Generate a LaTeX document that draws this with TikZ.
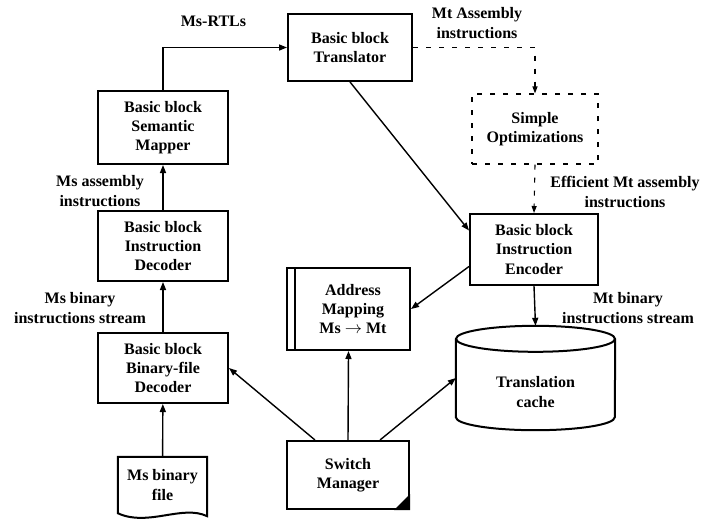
\documentclass[tikz,border=0pt]{standalone}
\usepackage{fontspec}
\setmainfont{Liberation Serif}
\usetikzlibrary{positioning,calc,arrows.meta}

\begin{document}
\begin{tikzpicture}[x=1pt,y=-1pt,
    every node/.style={font=\bfseries\fontsize{16}{19.3}\selectfont, align=center},
    blk/.style={draw, line width=2pt, inner sep=0pt},
    wire/.style={line width=1.4pt, -{Triangle[length=8pt,width=6pt]}},
    dwire/.style={line width=1.1pt, dash pattern=on 5pt off 8pt}]
    \useasboundingbox (0,0) rectangle (719,523);
    % main blocks
    \node[blk, minimum width=124pt, minimum height=67pt] (trans) at (350,47.5) {Basic block\\Translator};
    \node[blk, minimum width=130pt, minimum height=73pt] (mapper) at (163,127.5) {Basic block\\Semantic\\Mapper};
    \node[blk, minimum width=130pt, minimum height=70pt] (idec) at (163,246) {Basic block\\Instruction\\Decoder};
    \node[blk, minimum width=130pt, minimum height=70pt] (bdec) at (163,368) {Basic block\\Binary-file\\Decoder};
    \node[blk, minimum width=128pt, minimum height=71pt] (enc) at (534,249.5) {Basic block\\Instruction\\Encoder};
    \node[blk, minimum width=123pt, minimum height=82pt] (addr) at (348.5,309) {\hspace*{9pt}Address\\\hspace*{9pt}Mapping\\\hspace*{9pt}Ms $\rightarrow$ Mt};
    \draw[line width=2pt] ($(addr.north west)+(9,0)$) -- ($(addr.south west)+(9,0)$);
    \node[blk, minimum width=122pt, minimum height=68pt] (sw) at (348,475) {Switch\\Manager};
    \fill ($(sw.south east)+(-16,0)$) -- (sw.south east) -- ($(sw.south east)+(0,-16)$) -- cycle;
    \node[draw, line width=1.1pt, dash pattern=on 5pt off 8pt, minimum width=126pt, minimum height=70pt] (opt) at (535,129) {Simple\\Optimizations};
    % document shape
    \node[minimum width=89pt, minimum height=56pt, inner sep=0pt] (file) at (162.5,485) {Ms binary\\file};
    \draw[line width=2pt] (file.north west) -- (file.north east) -- ($(file.south east)+(0,3)$)
        .. controls +(-25,-12) and +(30,14) .. (file.south west) -- cycle;
    % cylinder
    \node[minimum width=159pt, minimum height=104pt, inner sep=0pt] (cache) at (535.5,378) {};
    \node (cachetxt) at ($(cache.center)+(0,14)$) {Translation\\cache};
    \draw[line width=2pt] ($(cache.north west)+(0,13)$) -- ($(cache.south west)+(0,-13)$)
        arc[start angle=180, end angle=360, x radius=79.5pt, y radius=13pt]
        -- ($(cache.north east)+(0,13)$);
    \draw[line width=2pt] ($(cache.north)+(0,13)$) ellipse [x radius=79.5pt, y radius=13pt];
    % labels
    \node (rtl) at (213.5,21) {Ms-RTLs};
    \node (mtasm) at (477,23) {Mt Assembly\\instructions};
    \node (msasm) at (100,191) {Ms assembly\\instructions};
    \node (msbin) at (80,308) {Ms binary\\instructions stream};
    \node (effasm) at (625,192) {Efficient Mt assembly\\instructions};
    \node (mtbin) at (628,308) {Mt binary\\instructions stream};
    % connectors
    \foreach \a/\b in {file/bdec, bdec/idec, idec/mapper}
        \draw[wire] (\a) -- (\b);
    \draw[wire] (mapper.north) |- (trans.west);
    \draw[dwire, -{Triangle[length=7pt,width=5pt]}] (trans.east) -| (opt.north);
    \draw[dwire, -{Triangle[length=7pt,width=5pt]}] (opt.south) -- (enc.north);
    \draw[wire] (trans.south) -- ($(enc.west)+(0,-19)$);
    \draw[wire] ($(enc.west)+(0,17)$) -- (addr.east);
    \draw[wire] (enc.south) -- (cache.north);
    \draw[wire] ($(sw.north)+(-33,0)$) -- (bdec.east);
    \draw[wire] (sw.north) -- (addr.south);
    \draw[wire] ($(sw.north)+(32,0)$) -- (cache.west);
\end{tikzpicture}
\end{document}
